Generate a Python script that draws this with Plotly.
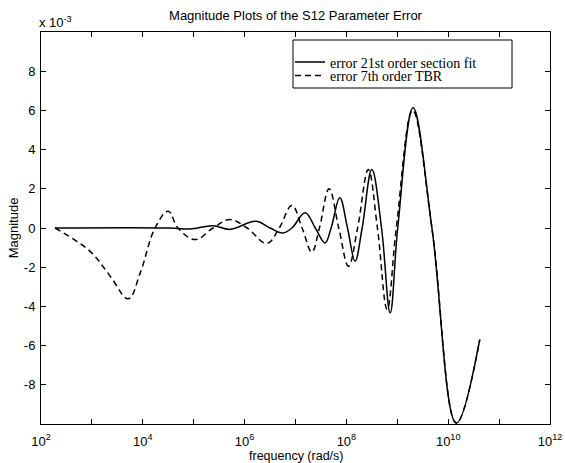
import plotly.graph_objects as go

# Frequencies (rad/s) and error values
freq_fit = [1.88e2, 3.39e4, 8.51e4, 2.40e5, 5.13e5, 1.66e6, 3.16e6, 5.62e6, 8.51e6,
            1.55e7, 2.45e7, 3.80e7, 5.01e7, 7.41e7, 1.05e8, 1.48e8, 2.04e8, 3.16e8,
            4.90e8, 7.24e8, 1.02e9, 2.04e9, 4.79e9, 1.445e10, 4.17e10]
err_fit = [0.0, 0.0, -0.00005, 0.00012, -0.00007, 0.00034, 0.0, -0.00025, 0.0,
           0.00078, 0.0, -0.00076, 0.0, 0.00154, 0.0, -0.00169, 0.0, 0.00298,
           0.0, -0.00433, 0.0, 0.00613, 0.0, -0.00995, -0.00569]

freq_tbr = [1.88e2, 9.12e2, 2.29e3, 5.19e3, 8.91e3, 1.74e4, 3.16e4, 4.90e4, 1.07e5,
            2.40e5, 5.13e5, 1.12e6, 2.75e6, 4.79e6, 8.51e6, 1.35e7, 2.09e7, 2.95e7,
            4.57e7, 7.08e7, 1.10e8, 1.66e8, 2.69e8, 4.07e8, 6.31e8, 9.55e8, 2.00e9,
            4.79e9, 1.445e10, 4.17e10]
err_tbr = [0.0, -0.00118, -0.00246, -0.00361, -0.00229, 0.0, 0.00086, 0.0, -0.00059,
           0.0, 0.00043, 0.0, -0.00079, 0.0, 0.00115, 0.0, -0.00123, 0.0,
           0.00200, 0.0, -0.00195, 0.0, 0.00298, 0.0, -0.00416, 0.0, 0.00600,
           0.0, -0.00995, -0.00569]

series_names = ["error 21st order section fit", "error 7th order TBR"]

x_tick_vals = [10 ** k for k in range(2, 13)]
x_tick_text = [f"10<sup>{k}</sup>" if k % 2 == 0 else "" for k in range(2, 13)]
y_tick_vals = [-0.008, -0.006, -0.004, -0.002, 0.0, 0.002, 0.004, 0.006, 0.008]
y_tick_text = ["-8", "-6", "-4", "-2", "0", "2", "4", "6", "8"]

W, H = 565, 463
ML, MR, MT, MB = 41, 15, 32, 39
PW, PH = W - ML - MR, H - MT - MB

def px_x(p):
    return (p - ML) / PW

def px_y(p):
    return 1 - (p - MT) / PH

sans = "Liberation Sans, Arial, sans-serif"
serif = "Liberation Serif, Times New Roman, serif"

fig = go.Figure()
fig.add_trace(go.Scatter(
    x=freq_fit, y=err_fit, mode="lines", name=series_names[0],
    line=dict(color="black", width=1.5, shape="spline", smoothing=1.1),
    legend="legend"))
fig.add_trace(go.Scatter(
    x=freq_tbr, y=err_tbr, mode="lines", name=series_names[1],
    line=dict(color="black", width=1.5, dash="6px,4px", shape="spline", smoothing=1.1),
    legend="legend2"))

axis_common = dict(
    showline=True, linecolor="black", linewidth=1, mirror="ticks",
    ticks="inside", ticklen=5, tickcolor="black", tickwidth=1,
    showgrid=False, zeroline=False, automargin=False,
    tickfont=dict(family=sans, size=13, color="black"),
)

fig.update_layout(
    width=W, height=H,
    margin=dict(l=ML, r=MR, t=MT, b=MB, pad=0, autoexpand=False),
    paper_bgcolor="white", plot_bgcolor="white",
    title=dict(text="Magnitude Plots of the S12 Parameter Error",
               x=0.5, xref="paper", xanchor="center",
               y=1 - 15 / H, yref="container", yanchor="middle",
               font=dict(family=sans, size=13, color="black")),
    xaxis=dict(type="log", range=[2, 12], tickvals=x_tick_vals, ticktext=x_tick_text,
               ticklabelstandoff=5,
               **axis_common),
    yaxis=dict(range=[-0.01, 0.01], tickvals=y_tick_vals, ticktext=y_tick_text,
               ticklabelstandoff=2,
               title=dict(text="Magnitude", standoff=2,
                          font=dict(family=sans, size=13, color="black")),
               **axis_common),
    legend=dict(x=px_x(290), y=px_y(62.5), xanchor="left", yanchor="middle",
                bgcolor="rgba(0,0,0,0)", borderwidth=0,
                font=dict(family=serif, size=14, color="black")),
    legend2=dict(x=px_x(290), y=px_y(76), xanchor="left", yanchor="middle",
                 bgcolor="rgba(0,0,0,0)", borderwidth=0,
                 font=dict(family=serif, size=14, color="black")),
    showlegend=True,
    shapes=[dict(type="rect", xref="paper", yref="paper",
                 x0=px_x(293), x1=px_x(512), y0=px_y(88), y1=px_y(40),
                 line=dict(color="black", width=1), fillcolor="white", layer="above")],
    annotations=[
        dict(text="x 10<sup>-3</sup>", xref="paper", yref="paper",
             x=px_x(37), y=px_y(22), xanchor="left", yanchor="middle",
             showarrow=False, font=dict(family=sans, size=13, color="black")),
        dict(text="frequency (rad/s)", xref="paper", yref="paper",
             x=0.5, y=px_y(455.5), xanchor="center", yanchor="middle",
             showarrow=False, font=dict(family=sans, size=12.5, color="black")),
    ],
)

fig.write_html("out.html")
